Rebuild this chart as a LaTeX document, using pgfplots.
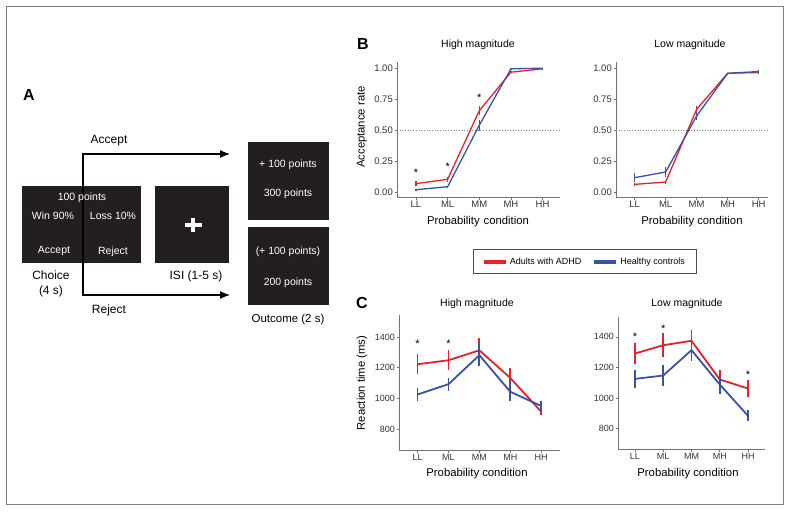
\documentclass[border=0pt]{standalone}
\usepackage{fontspec}
\setmainfont{Liberation Sans}
\usepackage{pgfplots}
\pgfplotsset{compat=1.18}
\usetikzlibrary{arrows.meta}
\definecolor{adhd}{RGB}{234,32,40}
\definecolor{hc}{RGB}{58,82,163}
\definecolor{boxc}{RGB}{35,31,32}
\definecolor{framec}{RGB}{125,125,125}
\newcommand{\fs}[1]{\fontsize{#1bp}{#1bp}\selectfont}

\pgfplotsset{
  panel/.style={
    scale only axis, clip=false,
    axis x line*=bottom, axis y line*=left,
    axis line style={-, black!55, line width=0.7bp},
    xmin=-0.6,
    xtick={0,1,2,3,4}, xticklabels={LL,ML,MM,MH,HH},
    tick style={black!55, line width=0.6bp},
    tick align=outside, major tick length=2.5bp,
    ticklabel style={text=black!80},
    xticklabel style={inner ysep=1.2bp},
    yticklabel style={inner xsep=1.5bp},
    /pgf/number format/assume math mode=true,
    legend image code/.code={\draw[#1, line width=4bp] (0bp,0bp) -- (22bp,0bp);},
  },
  bpanel/.style={panel, height=135bp, ymin=-0.04, ymax=1.05,
    ytick={0,0.25,0.5,0.75,1}, yticklabels={0.00,0.25,0.50,0.75,1.00},
    ticklabel style={font=\fs{9.5}}},
  cpanel/.style={panel, xmax=4.6, ytick={800,1000,1200,1400},
    yticklabels={800,1000,1200,1400}, ticklabel style={font=\fs{9}}},
  ser/.style n args={2}{#1, line width=#2, mark=none, error bars/y dir=both,
    error bars/y explicit, error bars/error mark=none,
    error bars/error bar style={#1, line width=#2, solid}},
  stars/.style={draw=none, mark=none, forget plot, nodes near coords={*},
    every node near coord/.style={anchor=center, font=\fs{11}, text=black}},
}

\begin{document}
\begin{tikzpicture}
\useasboundingbox (0bp,0bp) rectangle (791bp,-512bp);

\begin{scope}[x=1bp,y=-1bp]
  % outer frame
  \draw[framec, line width=1.2bp] (6.5,6.5) rectangle (783.5,504.5);
  % panel A
  \node[font=\bfseries\fs{16}] at (29,95) {A};
  \fill[boxc] (22,186) rectangle (141,263);
  \fill[boxc] (155,186) rectangle (229,263);
  \fill[boxc] (248,142) rectangle (329,220);
  \fill[boxc] (248,227) rectangle (329,305);
  \draw[white, line width=4bp] (184.5,225) -- (201.5,225);
  \draw[white, line width=4bp] (193,218) -- (193,232);
  \draw[black, line width=1.3bp] (83,295) -- (83,154);
  \draw[black, line width=1.3bp, -{Latex[length=10bp,width=8bp]}] (82.35,154) -- (230,154);
  \draw[black, line width=1.3bp, -{Latex[length=10bp,width=8bp]}] (82.35,295) -- (230,295);
  \node[font=\fs{12}] at (109,141) {Accept};
  \node[font=\fs{12}] at (109,310) {Reject};
  \begin{scope}[every node/.style={text=white, font=\fs{10.5}}]
    \node at (82,198) {100 points};
    \node at (53,216) {Win 90\%};
    \node at (113,216) {Loss 10\%};
    \node at (54,251) {Accept};
    \node at (113,252) {Reject};
    \node at (288,165) {+ 100 points};
    \node at (288,194) {300 points};
    \node at (288,252) {(+ 100 points)};
    \node at (288,283) {200 points};
  \end{scope}
  \node[font=\fs{12}] at (51,275) {Choice};
  \node[font=\fs{12}] at (51,291) {(4 s)};
  \node[font=\fs{12}] at (196,276) {ISI (1-5 s)};
  \node[font=\fs{11.5}] at (288,320) {Outcome (2 s)};
  % titles and labels
  \node[font=\bfseries\fs{16}] at (363,44) {B};
  \node[font=\bfseries\fs{16}] at (362,303) {C};
  \node[font=\fs{10.5}] at (478,45) {High magnitude};
  \node[font=\fs{10.5}] at (690,45) {Low magnitude};
  \node[font=\fs{10.5}] at (477,304) {High magnitude};
  \node[font=\fs{10.5}] at (687,304) {Low magnitude};
  \node[font=\fs{11.3}, rotate=90] at (362,127) {Acceptance rate};
  \node[font=\fs{11.3}, rotate=90] at (362,383) {Reaction time (ms)};
  \node[font=\fs{11.3}] at (478,222) {Probability\hspace{0.35em}condition};
  \node[font=\fs{11.3}] at (692,222) {Probability condition};
  \node[font=\fs{11.3}] at (477,474) {Probability condition};
  \node[font=\fs{11.3}] at (688,474) {Probability condition};
\end{scope}

% ---------------- B: High magnitude
\begin{axis}[bpanel, at={(397bp,-197bp)}, anchor=south west, width=163bp, xmax=4.55]
  \addplot[gray, dotted, line width=0.7bp, forget plot] coordinates {(-0.6,0.5) (4.55,0.5)};
  \addplot[ser={adhd}{1.3bp}] coordinates {
    (0,0.068) +- (0,0.020) (1,0.103) +- (0,0.020) (2,0.657) +- (0,0.035)
    (3,0.968) +- (0,0.008) (4,0.995) +- (0,0.005)};
  \addplot[ser={hc}{1.3bp}] coordinates {
    (0,0.019) +- (0,0.005) (1,0.043) +- (0,0.008) (2,0.540) +- (0,0.045)
    (3,0.995) +- (0,0.005) (4,1.000) +- (0,0.004)};
  \addplot[stars] coordinates {(0,0.157) (1,0.205) (2,0.760)};
\end{axis}

% ---------------- B: Low magnitude
\begin{axis}[bpanel, at={(616bp,-197bp)}, anchor=south west, width=152bp, xmax=4.3]
  \addplot[gray, dotted, line width=0.7bp, forget plot] coordinates {(-0.6,0.5) (4.3,0.5)};
  \addplot[ser={adhd}{1.3bp}] coordinates {
    (0,0.062) +- (0,0.010) (1,0.081) +- (0,0.012) (2,0.668) +- (0,0.030)
    (3,0.959) +- (0,0.006) (4,0.965) +- (0,0.008)};
  \addplot[ser={hc}{1.3bp}] coordinates {
    (0,0.116) +- (0,0.034) (1,0.162) +- (0,0.040) (2,0.614) +- (0,0.036)
    (3,0.959) +- (0,0.006) (4,0.973) +- (0,0.010)};
\end{axis}

% ---------------- C: High magnitude
\begin{axis}[cpanel, at={(399bp,-450bp)}, anchor=south west, width=160.7bp, height=135bp,
  ymin=663, ymax=1543,
  legend columns=2,
  legend style={at={(1.154,1.396)}, anchor=center, draw=black!70, line width=0.6bp,
    font=\fs{9}, inner xsep=9bp, inner ysep=6bp,
    /tikz/every even column/.append style={column sep=9bp}},
  legend cell align=left]
  \addplot[ser={adhd}{1.8bp}] coordinates {
    (0,1222) +- (0,66) (1,1248) +- (0,65) (2,1313) +- (0,83)
    (3,1133) +- (0,67) (4,913) +- (0,25)};
  \addplot[ser={hc}{1.8bp}] coordinates {
    (0,1025) +- (0,45) (1,1092) +- (0,42) (2,1281) +- (0,70)
    (3,1043) +- (0,63) (4,950) +- (0,32)};
  \addplot[stars] coordinates {(0,1357) (1,1357)};
  \legend{Adults with ADHD, Healthy controls}
\end{axis}

% ---------------- C: Low magnitude
\begin{axis}[cpanel, at={(618bp,-449.5bp)}, anchor=south west, width=147bp, height=133bp,
  ymin=663, ymax=1533]
  \addplot[ser={adhd}{1.8bp}] coordinates {
    (0,1291) +- (0,69) (1,1345) +- (0,80) (2,1374) +- (0,73)
    (3,1121) +- (0,60) (4,1062) +- (0,55)};
  \addplot[ser={hc}{1.8bp}] coordinates {
    (0,1125) +- (0,60) (1,1147) +- (0,70) (2,1313) +- (0,71)
    (3,1088) +- (0,60) (4,883) +- (0,36)};
  \addplot[stars] coordinates {(0,1402) (1,1455) (4,1149)};
\end{axis}
\end{tikzpicture}
\end{document}
